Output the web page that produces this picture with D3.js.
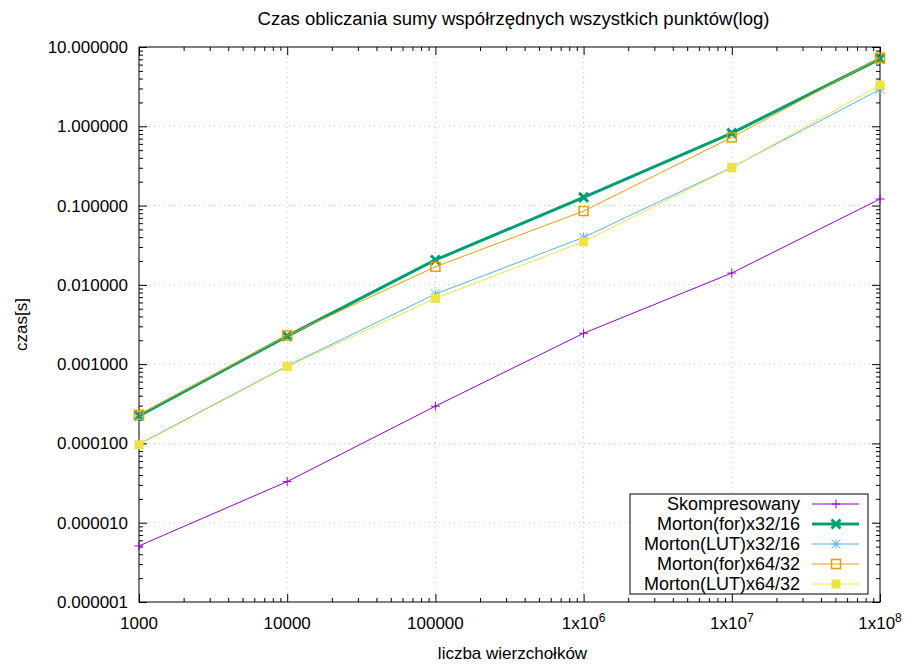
<!DOCTYPE html>
<html>
<head>
<meta charset="utf-8">
<script src="https://cdn.jsdelivr.net/npm/d3@7"></script>
<style>
  body { margin: 0; background: #fff; }
  svg text { font-family: "Liberation Sans", Arial, sans-serif; fill: #000; }
</style>
</head>
<body>
<div id="chart"></div>
<script>
// data
const sizes = [1000, 10000, 100000, 1e6, 1e7, 1e8];
const skompresowany = [5.1e-6, 3.3e-5, 2.95e-4, 2.45e-3, 0.0141, 0.121];
const mortonFor32 = [2.23e-4, 2.26e-3, 0.0206, 0.127, 0.82, 7.1];
const mortonLut32 = [9.8e-5, 9.5e-4, 0.00766, 0.0397, 0.303, 2.92];
const mortonFor64 = [2.3e-4, 2.3e-3, 0.0169, 0.0853, 0.724, 7.3];
const mortonLut64 = [9.6e-5, 9.3e-4, 0.00676, 0.035, 0.30, 3.31];

const xTicks = [1000, 10000, 100000, 1e6, 1e7, 1e8];
const xTickLabels = [["1000"], ["10000"], ["100000"], ["1x10", "6"], ["1x10", "7"], ["1x10", "8"]];
const yTicks = [1e-6, 1e-5, 1e-4, 1e-3, 1e-2, 1e-1, 1, 10];
const yTickLabels = ["0.000001", "0.000010", "0.000100", "0.001000", "0.010000", "0.100000", "1.000000", "10.000000"];

const series = [
    {name: "Skompresowany", values: skompresowany, color: "#9400d3", width: 1, marker: "plus"},
    {name: "Morton(for)x32/16", values: mortonFor32, color: "#009e73", width: 3, marker: "cross"},
    {name: "Morton(LUT)x32/16", values: mortonLut32, color: "#56b4e9", width: 1, marker: "star"},
    {name: "Morton(for)x64/32", values: mortonFor64, color: "#e69f00", width: 1, marker: "box"},
    {name: "Morton(LUT)x64/32", values: mortonLut64, color: "#f0e442", width: 1, marker: "fbox"}
];

const W = 907, H = 664;
const margin = {top: 47, right: 27, bottom: 62, left: 139};
const width = W - margin.left - margin.right;
const height = H - margin.top - margin.bottom;

const svg = d3.select("#chart").append("svg")
    .attr("width", W)
    .attr("height", H);

const g = svg.append("g")
    .attr("transform", "translate(" + margin.left + "," + margin.top + ")");

const xScale = d3.scaleLog().domain([1000, 1e8]).range([0, width]);
const yScale = d3.scaleLog().domain([1e-6, 10]).range([height, 0]);

// minor ticks 2..9 in every decade
function minors(lo, hi) {
    const out = [];
    for (let d = lo; d < hi; d *= 10) {
        for (let k = 2; k <= 9; k++) out.push(d * k);
    }
    return out;
}
const xMinor = minors(1000, 1e8);
const yMinor = minors(1e-6, 10);

// grid
g.append("g")
    .selectAll("line.vg")
    .data(xTicks.slice(1, -1))
    .join("line")
    .attr("x1", d => xScale(d)).attr("x2", d => xScale(d))
    .attr("y1", 0).attr("y2", height)
    .attr("stroke", "#c8c8c8").attr("stroke-width", 1)
    .attr("stroke-dasharray", "1,4");

g.append("g")
    .selectAll("line.hg")
    .data(yTicks.slice(1, -1))
    .join("line")
    .attr("x1", 0).attr("x2", width)
    .attr("y1", d => yScale(d)).attr("y2", d => yScale(d))
    .attr("stroke", "#c8c8c8").attr("stroke-width", 1)
    .attr("stroke-dasharray", "1,4");

// ticks (inward, mirrored)
function tickAxis(axis, transform) {
    const a = g.append("g").attr("transform", transform).call(axis);
    a.select(".domain").remove();
    a.selectAll("text").remove();
    a.selectAll("line").attr("stroke", "#000");
}
tickAxis(d3.axisBottom(xScale).tickValues(xTicks).tickSize(-8), "translate(0," + height + ")");
tickAxis(d3.axisBottom(xScale).tickValues(xMinor).tickSize(-4), "translate(0," + height + ")");
tickAxis(d3.axisTop(xScale).tickValues(xTicks).tickSize(-8), "translate(0,0)");
tickAxis(d3.axisTop(xScale).tickValues(xMinor).tickSize(-4), "translate(0,0)");
tickAxis(d3.axisLeft(yScale).tickValues(yTicks).tickSize(-8), "translate(0,0)");
tickAxis(d3.axisLeft(yScale).tickValues(yMinor).tickSize(-4), "translate(0,0)");
tickAxis(d3.axisRight(yScale).tickValues(yTicks).tickSize(-8), "translate(" + width + ",0)");
tickAxis(d3.axisRight(yScale).tickValues(yMinor).tickSize(-4), "translate(" + width + ",0)");

// border
g.append("rect")
    .attr("width", width).attr("height", height)
    .attr("fill", "none").attr("stroke", "#000").attr("stroke-width", 1);

// tick labels
g.append("g")
    .selectAll("text")
    .data(yTicks)
    .join("text")
    .attr("x", -11)
    .attr("y", d => yScale(d))
    .attr("dy", "0.35em")
    .attr("text-anchor", "end")
    .attr("font-size", 17)
    .text((d, i) => yTickLabels[i]);

const xl = g.append("g")
    .selectAll("text")
    .data(xTicks)
    .join("text")
    .attr("x", d => xScale(d))
    .attr("y", height + 27)
    .attr("text-anchor", "middle")
    .attr("font-size", 17);
xl.append("tspan").text((d, i) => xTickLabels[i][0]);
xl.filter((d, i) => xTickLabels[i].length > 1)
    .append("tspan")
    .attr("dy", -7)
    .attr("font-size", 12)
    .text(d => xTickLabels[xTicks.indexOf(d)][1]);

// titles
svg.append("text")
    .attr("x", margin.left + width / 2 + 4)
    .attr("y", 25)
    .attr("text-anchor", "middle")
    .attr("font-size", 18)
    .attr("textLength", 512)
    .attr("lengthAdjust", "spacingAndGlyphs")
    .text("Czas obliczania sumy współrzędnych wszystkich punktów(log)");

svg.append("text")
    .attr("x", margin.left + width / 2 + 3)
    .attr("y", 659)
    .attr("text-anchor", "middle")
    .attr("font-size", 17)
    .text("liczba wierzchołków");

svg.append("text")
    .attr("transform", "translate(27," + (margin.top + height / 2) + ") rotate(-90)")
    .attr("text-anchor", "middle")
    .attr("font-size", 17)
    .text("czas[s]");

// markers
function drawMarker(sel, type, color, size) {
    const s = size / 2;
    if (type === "plus") {
        sel.append("path").attr("d", `M${-s},0H${s}M0,${-s}V${s}`)
            .attr("stroke", color).attr("stroke-width", 1).attr("fill", "none");
    } else if (type === "cross") {
        sel.append("path").attr("d", `M${-s},${-s}L${s},${s}M${-s},${s}L${s},${-s}`)
            .attr("stroke", color).attr("stroke-width", 3).attr("fill", "none");
    } else if (type === "star") {
        sel.append("path").attr("d", `M${-s},0H${s}M0,${-s}V${s}M${-s},${-s}L${s},${s}M${-s},${s}L${s},${-s}`)
            .attr("stroke", color).attr("stroke-width", 1).attr("fill", "none");
    } else if (type === "box") {
        sel.append("rect").attr("x", -s).attr("y", -s).attr("width", size).attr("height", size)
            .attr("stroke", color).attr("stroke-width", 1.5).attr("fill", "none");
    } else if (type === "fbox") {
        sel.append("rect").attr("x", -s).attr("y", -s).attr("width", size).attr("height", size)
            .attr("fill", color);
    }
}

const line = d3.line()
    .x(d => xScale(d.x))
    .y(d => yScale(d.y));

series.forEach(s => {
    const pts = sizes.map((x, i) => ({x: x, y: s.values[i]}));
    g.append("path")
        .datum(pts)
        .attr("fill", "none")
        .attr("stroke", s.color)
        .attr("stroke-width", s.width)
        .attr("d", line);
    g.append("g")
        .selectAll("g")
        .data(pts)
        .join("g")
        .attr("transform", d => "translate(" + xScale(d.x) + "," + yScale(d.y) + ")")
        .each(function() { drawMarker(d3.select(this), s.marker, s.color, 9); });
});

// legend
const legend = svg.append("g");
legend.append("rect")
    .attr("x", 630).attr("y", 494)
    .attr("width", 238).attr("height", 100)
    .attr("fill", "#fff").attr("stroke", "#000").attr("stroke-width", 1);

series.forEach((s, i) => {
    const y = 504 + i * 20;
    legend.append("text")
        .attr("x", 800).attr("y", y)
        .attr("dy", "0.35em")
        .attr("text-anchor", "end")
        .attr("font-size", 18)
        .text(s.name);
    legend.append("line")
        .attr("x1", 812).attr("x2", 859)
        .attr("y1", y).attr("y2", y)
        .attr("stroke", s.color).attr("stroke-width", s.width);
    drawMarker(legend.append("g").attr("transform", "translate(836," + y + ")"), s.marker, s.color, 9);
});
</script>
</body>
</html>
